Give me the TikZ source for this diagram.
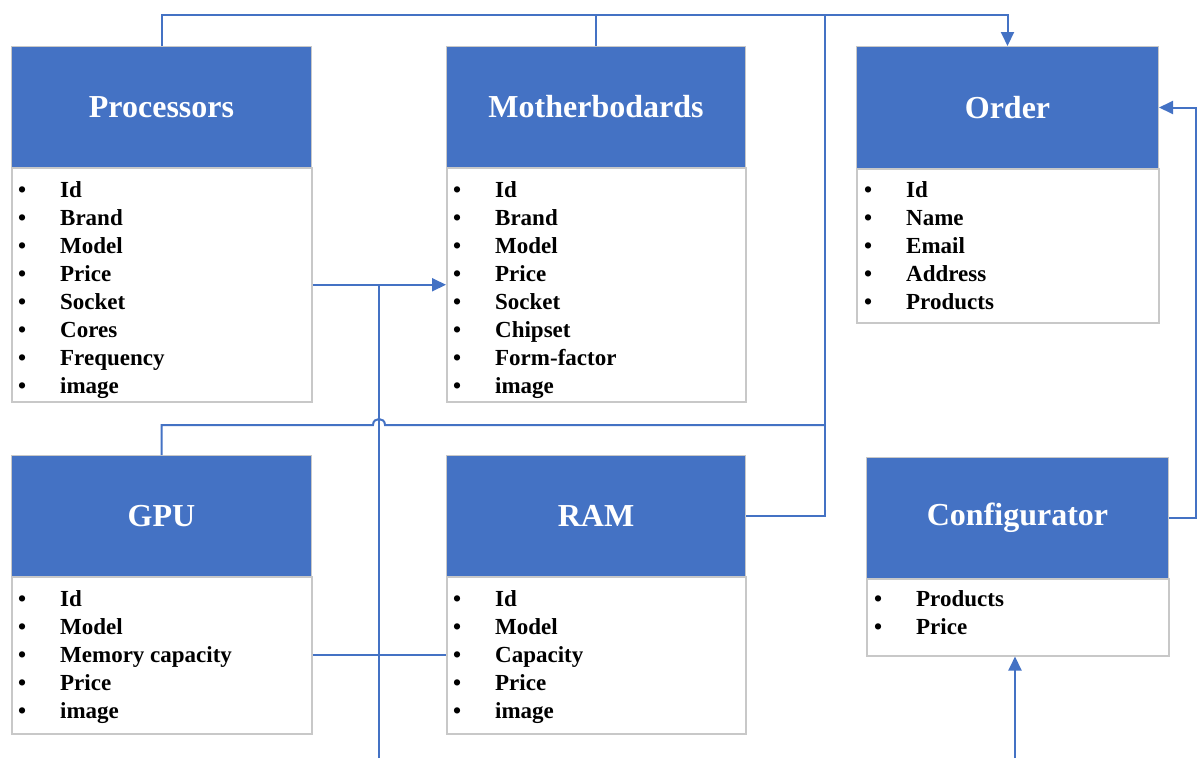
\documentclass[tikz,border=0pt]{standalone}
\usepackage{fontspec}
\setmainfont{Liberation Serif}
\usetikzlibrary{arrows.meta,calc}
\definecolor{hblue}{HTML}{4472C4}
\definecolor{bgray}{HTML}{C8C8C8}
\newcommand{\mybul}{\textbullet}
\begin{document}
\begin{tikzpicture}[x=1pt,y=-1pt,
  hdr/.style={draw=bgray, line width=1pt, fill=hblue, text=white,
    font=\fontsize{32}{38}\selectfont\bfseries, inner sep=0pt, anchor=north west},
  bodybox/.style={draw=bgray, line width=1.5pt, fill=white, inner sep=0pt, anchor=north west},
  itemlist/.style={inner sep=0pt, anchor=base west, font=\fontsize{23}{28}\selectfont\bfseries},
  conn/.style={draw=hblue, line width=2pt},
  arr/.style={conn, -{Triangle[length=14pt,width=13pt]}}]
\useasboundingbox (0,0) rectangle (1197,758);

% Processors
\node[hdr, minimum width=300pt, minimum height=121pt] (ph) at (11,46) {Processors};
\node[bodybox, minimum width=300pt, minimum height=234pt] (pb) at (11,167) {};
\node[itemlist] (pl) at (18,197.5) {\begin{tabular}[t]{@{}p{42pt}@{}l@{}}
\mybul & Id\\ \mybul & Brand\\ \mybul & Model\\ \mybul & Price\\
\mybul & Socket\\ \mybul & Cores\\ \mybul & Frequency\\ \mybul & image
\end{tabular}};

% Motherboards
\node[hdr, minimum width=299pt, minimum height=121pt] (mh) at (446,46) {Motherbodards};
\node[bodybox, minimum width=299pt, minimum height=234pt] (mb) at (446,167) {};
\node[itemlist] (ml) at (453,197.5) {\begin{tabular}[t]{@{}p{42pt}@{}l@{}}
\mybul & Id\\ \mybul & Brand\\ \mybul & Model\\ \mybul & Price\\
\mybul & Socket\\ \mybul & Chipset\\ \mybul & Form-factor\\ \mybul & image
\end{tabular}};

% Order
\node[hdr, minimum width=302pt, minimum height=122pt] (oh) at (856,46) {Order};
\node[bodybox, minimum width=302pt, minimum height=154pt] (ob) at (856,168) {};
\node[itemlist] (ol) at (864,197.5) {\begin{tabular}[t]{@{}p{42pt}@{}l@{}}
\mybul & Id\\ \mybul & Name\\ \mybul & Email\\ \mybul & Address\\
\mybul & Products
\end{tabular}};

% GPU
\node[hdr, minimum width=300pt, minimum height=121pt] (gh) at (11,455) {GPU};
\node[bodybox, minimum width=300pt, minimum height=157pt] (gb) at (11,576) {};
\node[itemlist] (gl) at (18,606.5) {\begin{tabular}[t]{@{}p{42pt}@{}l@{}}
\mybul & Id\\ \mybul & Model\\ \mybul & Memory capacity\\ \mybul & Price\\
\mybul & image
\end{tabular}};

% RAM
\node[hdr, minimum width=299pt, minimum height=121pt] (rh) at (446,455) {RAM};
\node[bodybox, minimum width=299pt, minimum height=157pt] (rb) at (446,576) {};
\node[itemlist] (rl) at (453,606.5) {\begin{tabular}[t]{@{}p{42pt}@{}l@{}}
\mybul & Id\\ \mybul & Model\\ \mybul & Capacity\\ \mybul & Price\\
\mybul & image
\end{tabular}};

% Configurator
\node[hdr, minimum width=302pt, minimum height=121pt] (ch) at (866,457) {Configurator};
\node[bodybox, minimum width=302pt, minimum height=77pt] (cb) at (866,578) {};
\node[itemlist] (cl) at (874,606.5) {\begin{tabular}[t]{@{}p{42pt}@{}l@{}}
\mybul & Products\\ \mybul & Price
\end{tabular}};

% connectors
\coordinate (bus) at (825,15);
\coordinate (b1) at (379,758);
\coordinate (b2) at (1015,758);

\draw[arr] (ph.north) |- (bus) -| (oh.north);
\draw[conn] (mh.north) -- (mh.north |- bus);
\draw[conn] (rh.east) -| (bus);
\draw[conn] (gh.north) |- (373,425) .. controls (373,417) and (385,417) .. (385,425) -- (825,425);
\draw[arr] (pb.east) -- (mb.west);
\draw[conn] (b1) -- (b1 |- pb.east);
\draw[conn] (gb.east) -- (rb.west);
\draw[arr] (b2) -- (b2 |- cb.south);
\draw[arr] (ch.east) -- ++(27,0) |- (oh.east);
\end{tikzpicture}
\end{document}
